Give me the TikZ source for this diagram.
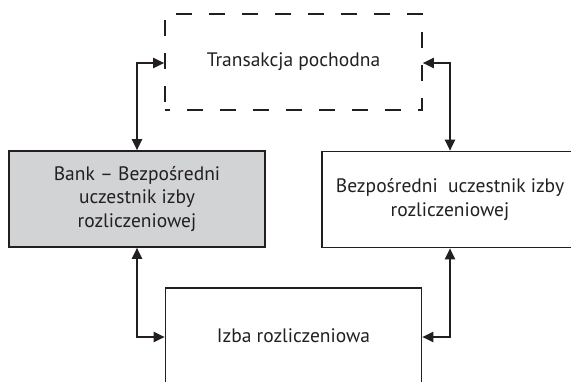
\documentclass[tikz,border=0pt]{standalone}
\usepackage{fontspec}
\setmainfont{PT Sans}
\usetikzlibrary{arrows.meta}
\definecolor{boxgray}{RGB}{210,211,213}
\definecolor{ink}{RGB}{35,31,32}
\tikzset{
  party/.style={draw=ink, line width=1.6pt, minimum width=256pt, minimum height=96pt,
    align=center, inner sep=0pt, font=\fontsize{19.5}{23.5}\selectfont, text=ink},
  link/.style={draw=ink, line width=2.2pt, {Triangle[length=11pt,width=10pt]}-{Triangle[length=11pt,width=10pt]}}
}
\begin{document}
\begin{tikzpicture}[x=1pt,y=-1pt]
\useasboundingbox (0,0) rectangle (571,381);
\begin{scope}
\clip (0,0) rectangle (571,381);
% derivative transaction (dashed frame)
\node[party, dashed, dash pattern=on 16pt off 17pt, dash phase=11pt, minimum width=257pt] (deriv) at (293.5,62) {Transakcja pochodna};
% the bank, a direct participant
\node[party, fill=boxgray] (bank) at (137,199) {Bank -- Bezpośredni\\uczestnik izby\\rozliczeniowej};
% the other direct participant
\node[party] (other) at (450,199.5) {Bezpośredni\ \ uczestnik izby\\rozliczeniowej};
% clearing house
\node[party] (house) at (293.5,336) {Izba rozliczeniowa};
\end{scope}
% connectors
\coordinate (tl) at (137,63);
\coordinate (tr) at (450,63);
\coordinate (bl) at (137,337);
\coordinate (br) at (450,337);
\draw[link] (bank.north) -- (tl) -- (tl -| deriv.west);
\draw[link] (other.north) -- (tr) -- (tr -| deriv.east);
\draw[link] (bank.south) -- (bl) -- (bl -| house.west);
\draw[link] (other.south) -- (br) -- (br -| house.east);
\end{tikzpicture}
\end{document}
